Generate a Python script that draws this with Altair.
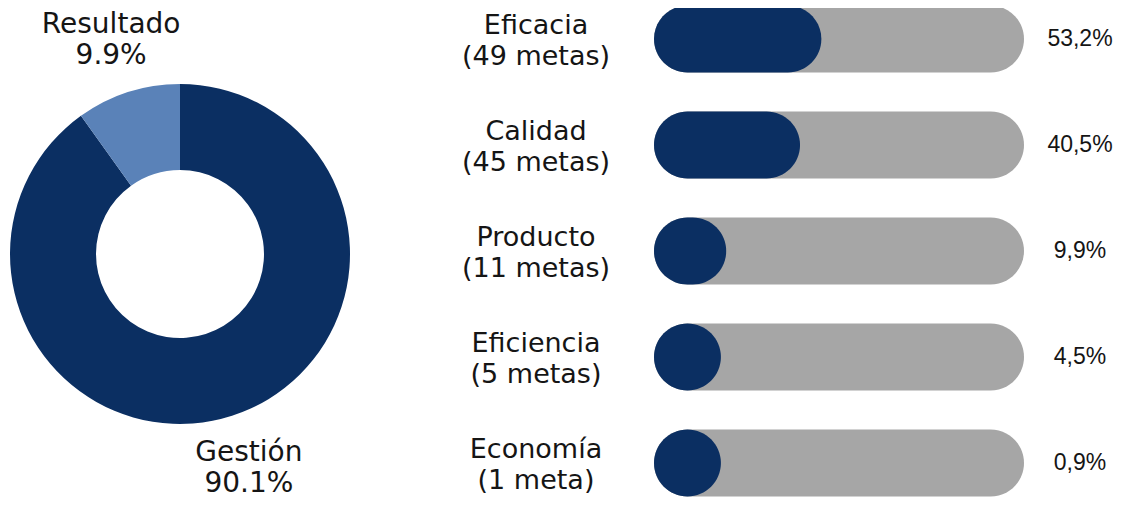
import altair as alt
import pandas as pd

# Donut data
donut_cats = ["Gestión", "Resultado"]
donut_vals = [90.1, 9.9]
donut_pct_labels = ["90.1%", "9.9%"]

# Bar data
cats = ["Eficacia", "Calidad", "Producto", "Eficiencia", "Economía"]
metas = ["(49 metas)", "(45 metas)", "(11 metas)", "(5 metas)", "(1 meta)"]
pcts = [53.2, 40.5, 9.9, 4.5, 0.9]
pct_labels = ["53,2%", "40,5%", "9,9%", "4,5%", "0,9%"]

NAVY = "#0b2f62"
LIGHT = "#5a82b8"
GRAY = "#a6a6a6"
TXT = "#151515"
FONT = "DejaVu Sans"

df_d = pd.DataFrame({
    "tipo": donut_cats,
    "valor": donut_vals,
    "orden": list(range(len(donut_cats))),
    "pct_label": donut_pct_labels,
})

df_b = pd.DataFrame({
    "cat": cats,
    "metas": metas,
    "pct": pcts,
    "pct_label": pct_labels,
})

CX, CY = 172, 246

arc = alt.Chart(df_d).mark_arc(innerRadius=84, outerRadius=170).encode(
    theta=alt.Theta("valor:Q", stack=True),
    color=alt.Color("tipo:N", scale=alt.Scale(domain=donut_cats, range=[NAVY, LIGHT]), legend=None),
    order=alt.Order("orden:Q"),
    x=alt.value(CX), y=alt.value(CY),
)


def arc_label(field, dy):
    return alt.Chart(df_d).mark_text(
        radius=225, dy=dy, fontSize=28, font=FONT, color=TXT,
        align="center", baseline="middle",
    ).encode(
        theta=alt.Theta("valor:Q", stack=True),
        order=alt.Order("orden:Q"),
        text=f"{field}:N",
        x=alt.value(CX), y=alt.value(CY),
    )


yscale = alt.Scale(domain=cats, range=[-22, 508], paddingInner=0.3679, paddingOuter=0.18396)
Y = alt.Y("cat:N", sort=cats, scale=yscale, axis=None)

track = alt.Chart(df_b).mark_bar(cornerRadius=33.5, color=GRAY).encode(
    y=Y, x=alt.value(646), x2=alt.value(1016)
)

fill = alt.Chart(df_b).transform_calculate(
    inicio="0", fin="max(datum.pct, 8.5)"
).mark_bar(cornerRadius=33.5, color=NAVY).encode(
    y=Y,
    x=alt.X("inicio:Q", scale=alt.Scale(type="sqrt", domain=[0, 260], range=[646, 1016]), axis=None),
    x2="fin:Q",
)


def cat_label(field, dy):
    return alt.Chart(df_b).mark_text(
        dy=dy, fontSize=27, font=FONT, color=TXT, align="center", baseline="middle",
    ).encode(y=Y, x=alt.value(528), text=f"{field}:N")


pct_text = alt.Chart(df_b).mark_text(
    fontSize=23, font="Liberation Sans", color=TXT, align="center", baseline="middle",
).encode(y=Y, x=alt.value(1072), text="pct_label:N")

chart = alt.layer(
    arc, arc_label("tipo", -15), arc_label("pct_label", 16),
    track, fill, cat_label("cat", -13), cat_label("metas", 18), pct_text,
).properties(
    width=1109, height=490, padding=0,
    autosize=alt.AutoSizeParams(type="none"),
).configure_view(stroke=None)

chart.save("out.html", embed_options={"renderer": "svg", "actions": False})
